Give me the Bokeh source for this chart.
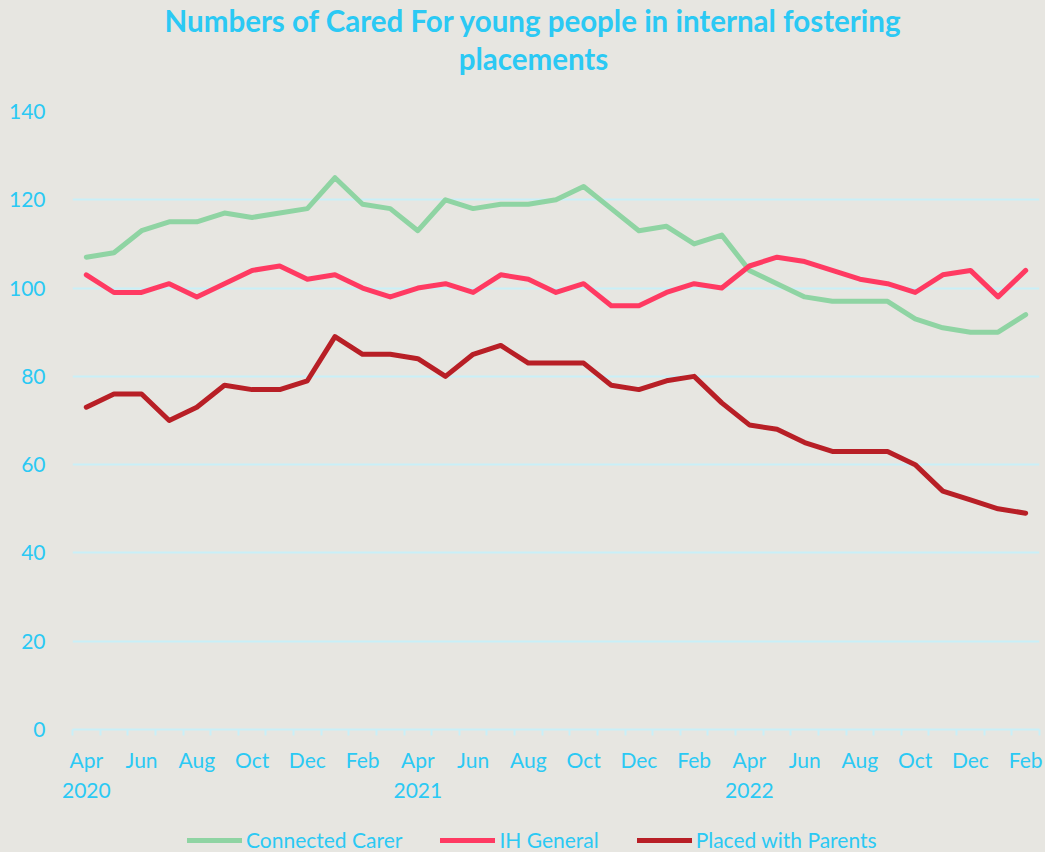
from bokeh.plotting import figure
from bokeh.layouts import column
from bokeh.models import FixedTicker, Range1d, Legend, LegendItem, Label
from bokeh.embed import file_html
from bokeh.resources import INLINE

# ---- data ----
tick_labels = ["Apr\n2020", "Jun", "Aug", "Oct", "Dec", "Feb",
               "Apr\n2021", "Jun", "Aug", "Oct", "Dec", "Feb",
               "Apr\n2022", "Jun", "Aug", "Oct", "Dec", "Feb"]
connected_carer = [107, 108, 113, 115, 115, 117, 116, 117, 118, 125, 119, 118,
                   113, 120, 118, 119, 119, 120, 123, 118, 113, 114, 110, 112,
                   104, 101, 98, 97, 97, 97, 93, 91, 90, 90, 94]
ih_general = [103, 99, 99, 101, 98, 101, 104, 105, 102, 103, 100, 98,
              100, 101, 99, 103, 102, 99, 101, 96, 96, 99, 101, 100,
              105, 107, 106, 104, 102, 101, 99, 103, 104, 98, 104]
placed_with_parents = [73, 76, 76, 70, 73, 78, 77, 77, 79, 89, 85, 85,
                       84, 80, 85, 87, 83, 83, 83, 78, 77, 79, 80, 74,
                       69, 68, 65, 63, 63, 63, 60, 54, 52, 50, 49]
series_names = ["Connected Carer", "IH General", "Placed with Parents"]
title_lines = ["Numbers of Cared For young people in internal fostering", "placements"]

BG = "#E7E6E1"
CYAN = "#2BC9F4"
GRID = "#C9EFF8"
COLORS = ["#8FD4A3", "#FF3A62", "#B81F26"]
FONT = "Lato"
W = 1045
LEFT, RIGHT = 72, 6

n = len(connected_carer)
x = list(range(n))
all_series = [connected_carer, ih_general, placed_with_parents]


def strip(h, xr, yr):
    fig = figure(width=W, height=h, output_backend="svg", toolbar_location=None,
                 x_range=xr, y_range=yr, x_axis_location=None, y_axis_location=None,
                 min_border=0, min_border_left=0, min_border_right=0,
                 min_border_top=0, min_border_bottom=0,
                 styles={"background-color": BG})
    fig.background_fill_color = BG
    fig.border_fill_color = BG
    fig.outline_line_color = None
    fig.grid.grid_line_color = None
    return fig


# ---- title strip (frame is aligned with the main frame by the column) ----
tf = strip(95, Range1d(LEFT, W - RIGHT), Range1d(0, 95))
for t, yy in zip(title_lines, [75.5, 37.0]):
    tf.add_layout(Label(x=533, y=yy, text=t, text_align="center", text_baseline="middle",
                        text_color=CYAN, text_font=FONT, text_font_style="bold",
                        text_font_size="29.5px"))

# ---- main chart ----
p_main = figure(width=W, height=731, output_backend="svg", toolbar_location=None,
                x_range=Range1d(-0.5, n - 0.5), y_range=Range1d(0, 140),
                min_border_left=LEFT, min_border_right=RIGHT, min_border_top=16,
                min_border_bottom=97, styles={"background-color": BG})
p_main.background_fill_color = BG
p_main.border_fill_color = BG
p_main.outline_line_color = None

for ys, c in zip(all_series, COLORS):
    p_main.line(x, ys, line_color=c, line_width=5, line_join="round", line_cap="round")

p_main.xaxis.ticker = FixedTicker(ticks=list(range(0, n, 2)),
                                  minor_ticks=[i - 0.5 for i in range(n + 1)])
p_main.xaxis.major_label_overrides = {i * 2: lab for i, lab in enumerate(tick_labels)}
p_main.xaxis.major_tick_line_color = None
p_main.xaxis.minor_tick_line_color = GRID
p_main.xaxis.minor_tick_line_width = 2
p_main.xaxis.minor_tick_out = 6
p_main.xaxis.minor_tick_in = 0
p_main.xaxis.axis_line_color = GRID
p_main.xaxis.axis_line_width = 2
p_main.xaxis.major_label_text_color = CYAN
p_main.xaxis.major_label_text_font = FONT
p_main.xaxis.major_label_text_font_size = "21px"
p_main.xaxis.major_label_standoff = 11

p_main.yaxis.ticker = FixedTicker(ticks=list(range(0, 141, 20)))
p_main.yaxis.axis_line_color = None
p_main.yaxis.major_tick_line_color = None
p_main.yaxis.minor_tick_line_color = None
p_main.yaxis.major_label_text_color = CYAN
p_main.yaxis.major_label_text_font = FONT
p_main.yaxis.major_label_text_font_size = "21px"
p_main.yaxis.major_label_standoff = 21

p_main.xgrid.grid_line_color = None
p_main.ygrid.grid_line_color = GRID
p_main.ygrid.grid_line_width = 2

# ---- legend strip ----
lf = strip(26, Range1d(0, 1), Range1d(1000, 1001))
lrs = [lf.line(x, ys, line_color=c, line_width=5, line_cap="round")
       for ys, c in zip(all_series, COLORS)]
legend = Legend(items=[LegendItem(label=nm, renderers=[r]) for nm, r in zip(series_names, lrs)],
                orientation="horizontal", location=(187 - LEFT, 0))
legend.background_fill_alpha = 0
legend.border_line_color = None
legend.label_text_color = CYAN
legend.label_text_font = FONT
legend.label_text_font_size = "21px"
legend.glyph_width = 55
legend.label_standoff = 4
legend.spacing = 38
legend.padding = 0
legend.margin = 0
lf.add_layout(legend, "center")

p = column(tf, p_main, lf, spacing=0, styles={"background-color": BG})

open("out.html", "w").write(file_html(p, INLINE))
